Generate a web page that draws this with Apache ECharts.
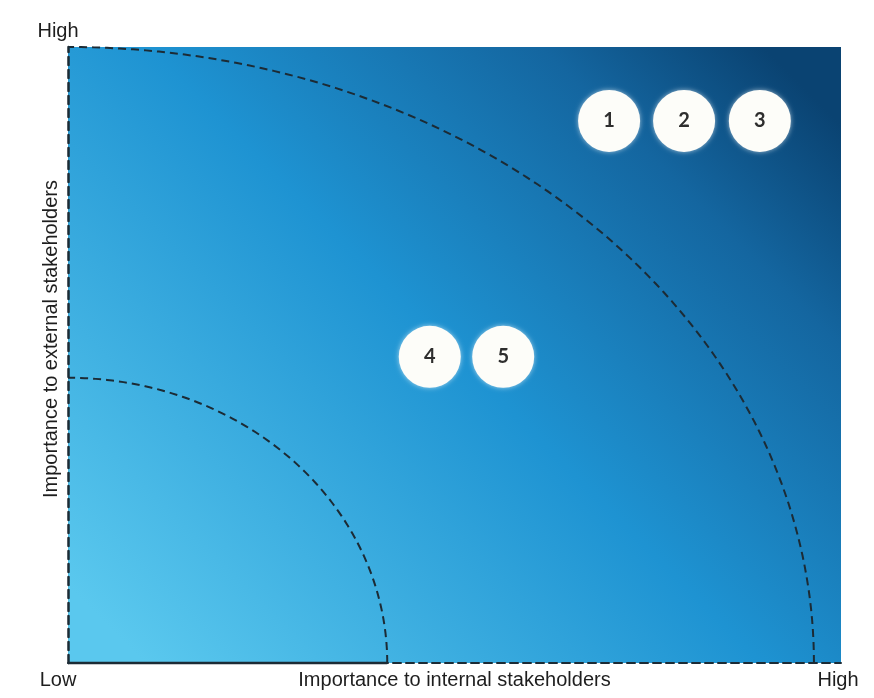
<!DOCTYPE html>
<html>
<head>
<meta charset="utf-8">
<script src="https://cdn.jsdelivr.net/npm/echarts@6/dist/echarts.min.js"></script>
<style>
html,body{margin:0;padding:0;background:#ffffff;}
#chart{width:874px;height:698px;}
</style>
</head>
<body>
<div id="chart"></div>
<script>
// Data
const issueLabels = ['1', '2', '3', '4', '5'];
const internalImportance = [7.0, 7.97, 8.95, 4.68, 5.63];
const externalImportance = [8.8, 8.8, 8.8, 4.97, 4.97];
const zoneRadiusX = [4.13, 9.65];
const zoneRadiusY = [4.63, 10];
const lowLabel = 'Low';
const highLabel = 'High';
const xTitle = 'Importance to internal stakeholders';
const yTitle = 'Importance to external stakeholders';

const chart = echarts.init(document.getElementById('chart'), null, {renderer: 'canvas'});
const lineColor = '#1c2b35';
const font = '"Liberation Sans", Arial, sans-serif';
const textColor = '#1e1e1e';

const zoneData = zoneRadiusX.map((rx, i) => [rx, zoneRadiusY[i]]);
const points = issueLabels.map((l, i) => [internalImportance[i], externalImportance[i], l]);

function renderZone(params, api) {
  const rx = api.value(0), ry = api.value(1);
  const pts = [];
  for (let k = 0; k <= 90; k++) {
    const a = k * Math.PI / 180;
    pts.push(api.coord([rx * Math.cos(a), ry * Math.sin(a)]));
  }
  const children = [{
    type: 'polyline',
    shape: {points: pts},
    style: {stroke: lineColor, lineWidth: 2, lineDash: [8, 5], fill: null}
  }];
  if (params.dataIndex === 0) {
    const p0 = api.coord([0, 0]);
    const p1 = api.coord([rx, 0]);
    children.push({
      type: 'line',
      shape: {x1: p0[0], y1: p0[1], x2: p1[0], y2: p1[1]},
      style: {stroke: lineColor, lineWidth: 2.5}
    });
  }
  return {type: 'group', children: children};
}

const option = {
  backgroundColor: '#ffffff',
  animation: false,
  grid: {
    left: 68, right: 33, top: 47, bottom: 35,
    containLabel: false,
    outerBoundsMode: 'none',
    show: true,
    borderWidth: 0,
    backgroundColor: new echarts.graphic.LinearGradient(0.1, 1, 0.9, 0, [
      {offset: 0, color: '#5ac8ee'},
      {offset: 0.5, color: '#1e93d2'},
      {offset: 0.82, color: '#1466a0'},
      {offset: 1, color: '#0a4372'}
    ])
  },
  xAxis: [{
    type: 'value', min: 0, max: 10, interval: 10,
    splitLine: {show: false}, axisTick: {show: false},
    axisLine: {show: true, lineStyle: {color: lineColor, width: 2, type: [8, 5]}},
    axisLabel: {
      margin: 7, fontFamily: font, fontSize: 20, color: textColor,
      formatter: v => v === 0 ? '{l|' + lowLabel + '}' : (v === 10 ? '{h|' + highLabel + '}' : ''),
      rich: {
        l: {fontFamily: font, fontSize: 20, color: textColor, padding: [0, 20, 0, 0]},
        h: {fontFamily: font, fontSize: 20, color: textColor, padding: [0, 6, 0, 0]}
      }
    }
  }, {
    type: 'value', min: 0, max: 10, position: 'bottom',
    name: xTitle, nameLocation: 'middle', nameGap: 7,
    nameTextStyle: {fontFamily: font, fontSize: 20, color: textColor, verticalAlign: 'top'},
    splitLine: {show: false}, axisTick: {show: false}, axisLabel: {show: false},
    axisLine: {show: false}
  }],
  yAxis: [{
    type: 'value', min: 0, max: 10, interval: 10,
    name: highLabel, nameLocation: 'end', nameGap: 6,
    nameTextStyle: {fontFamily: font, fontSize: 20, color: textColor, padding: [0, 20, 0, 0]},
    splitLine: {show: false}, axisTick: {show: false}, axisLabel: {show: false},
    axisLine: {show: true, lineStyle: {color: lineColor, width: 2.5, type: [8, 5]}}
  }, {
    type: 'value', min: 0, max: 10, position: 'left',
    name: yTitle, nameLocation: 'middle', nameGap: 7,
    nameTextStyle: {fontFamily: font, fontSize: 20, color: textColor, padding: [0, 0, 0, 32]},
    splitLine: {show: false}, axisTick: {show: false}, axisLabel: {show: false},
    axisLine: {show: false}
  }],
  series: [{
    type: 'custom',
    renderItem: renderZone,
    data: zoneData,
    silent: true,
    z: 2
  }, {
    type: 'scatter',
    data: points,
    symbol: 'circle',
    symbolSize: 62,
    z: 3,
    itemStyle: {
      color: '#fdfdf9',
      opacity: 1,
      shadowBlur: 5,
      shadowColor: 'rgba(255,255,255,0.6)'
    },
    label: {
      show: true,
      position: 'inside',
      formatter: p => p.value[2],
      fontFamily: '"Liberation Sans Narrow", Lato, sans-serif',
      fontWeight: 'bold',
      fontSize: 20,
      color: '#2e2e2e'
    }
  }]
};
chart.setOption(option);
</script>
</body>
</html>
